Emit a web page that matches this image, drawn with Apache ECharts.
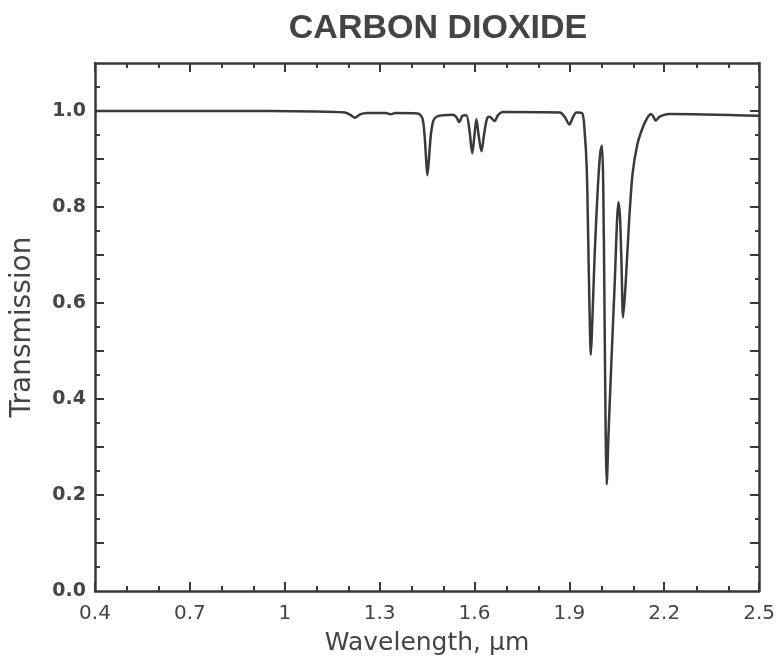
<!DOCTYPE html>
<html>
<head>
<meta charset="utf-8">
<script src="https://cdn.jsdelivr.net/npm/echarts@6/dist/echarts.min.js"></script>
<style>html,body{margin:0;padding:0;background:#fff;}#chart{width:778px;height:663px;}</style>
</head>
<body>
<div id="chart"></div>
<script>
// Data
const wavelength = [
  0.40, 0.80, 1.10, 1.19, 1.205, 1.222, 1.238, 1.26, 1.32, 1.335, 1.35, 1.42,
  1.435, 1.442, 1.447, 1.451, 1.456, 1.462, 1.470, 1.48, 1.50, 1.53, 1.542, 1.552,
  1.562, 1.574, 1.584, 1.593, 1.600, 1.606, 1.613, 1.622, 1.630, 1.640, 1.648, 1.663,
  1.675, 1.69, 1.87, 1.885, 1.900, 1.912, 1.922, 1.940, 1.948, 1.955, 1.960, 1.964,
  1.968, 1.972, 1.980, 1.990, 1.998, 2.003, 2.007, 2.011, 2.015, 2.018, 2.024, 2.033,
  2.044, 2.050, 2.055, 2.060, 2.065, 2.070, 2.078, 2.088, 2.100, 2.115, 2.130, 2.146,
  2.158, 2.166, 2.173, 2.185, 2.200, 2.215, 2.50
];
const transmission = [
  1.000, 1.000, 0.999, 0.997, 0.993, 0.986, 0.993, 0.996, 0.996, 0.993, 0.996, 0.995,
  0.985, 0.950, 0.900, 0.866, 0.900, 0.950, 0.980, 0.988, 0.991, 0.992, 0.988, 0.977,
  0.990, 0.991, 0.960, 0.912, 0.950, 0.983, 0.950, 0.916, 0.950, 0.985, 0.988, 0.979,
  0.992, 0.998, 0.997, 0.988, 0.972, 0.988, 0.997, 0.996, 0.960, 0.880, 0.720, 0.580,
  0.492, 0.550, 0.700, 0.840, 0.915, 0.928, 0.850, 0.600, 0.320, 0.222, 0.330, 0.480,
  0.650, 0.760, 0.810, 0.780, 0.680, 0.570, 0.640, 0.760, 0.870, 0.930, 0.962, 0.985,
  0.994, 0.988, 0.980, 0.988, 0.992, 0.994, 0.990
];
const xMajorTicks = [0.4, 0.7, 1.0, 1.3, 1.6, 1.9, 2.2, 2.5];
const xMinorTicks = [0.5, 0.6, 0.8, 0.9, 1.1, 1.2, 1.4, 1.5, 1.7, 1.8, 2.0, 2.1, 2.3, 2.4];
const yLabelTicks = [0.0, 0.2, 0.4, 0.6, 0.8, 1.0];
const yMajorTicks = [0.1, 0.2, 0.3, 0.4, 0.5, 0.6, 0.7, 0.8, 0.9, 1.0];
const yMinorTicks = [0.05, 0.15, 0.25, 0.35, 0.45, 0.55, 0.65, 0.75, 0.85, 0.95, 1.05];

const X_MIN = 0.4, X_MAX = 2.5, Y_MIN = 0, Y_MAX = 1.1;
const ink = '#3a3a3a';
const textCol = '#444';

const gridRect = { left: 95, right: 18, top: 63, bottom: 72, containLabel: false };

function xAx(gridIndex, position, ticks, len, opts) {
  return Object.assign({
    type: 'value', gridIndex: gridIndex, position: position, min: X_MIN, max: X_MAX,
    splitLine: { show: false },
    axisLine: { show: false, onZero: false },
    axisTick: { show: true, inside: true, length: len, customValues: ticks, lineStyle: { color: ink, width: 2 } },
    axisLabel: { show: false }
  }, opts || {});
}
function yAx(gridIndex, position, ticks, len, opts) {
  return Object.assign({
    type: 'value', gridIndex: gridIndex, position: position, min: Y_MIN, max: Y_MAX,
    splitLine: { show: false },
    axisLine: { show: false, onZero: false },
    axisTick: { show: true, inside: true, length: len, customValues: ticks, lineStyle: { color: ink, width: 2 } },
    axisLabel: { show: false }
  }, opts || {});
}
const frameLine = { show: true, onZero: false, lineStyle: { color: ink, width: 2.5 } };

const chart = echarts.init(document.getElementById('chart'), null, { renderer: 'canvas' });
chart.setOption({
  backgroundColor: '#fff',
  animation: false,
  title: {
    text: 'CARBON DIOXIDE', left: 433, top: 7, textAlign: 'center',
    textStyle: { fontFamily: 'Liberation Sans', fontWeight: 'bold', fontSize: 34, color: textCol }
  },
  grid: [gridRect, gridRect],
  xAxis: [
    xAx(0, 'bottom', xMajorTicks, 9, {
      axisLine: frameLine,
      name: 'Wavelength, µm', nameLocation: 'middle', nameGap: 40,
      nameTextStyle: { fontFamily: 'DejaVu Sans', fontSize: 25, color: textCol },
      axisLabel: { show: true, customValues: xMajorTicks, margin: 13,
        fontFamily: 'DejaVu Sans', fontSize: 20, color: textCol,
        formatter: v => String(Math.round(v * 10) / 10) }
    }),
    xAx(0, 'top', xMajorTicks, 9, { axisLine: frameLine }),
    xAx(1, 'bottom', xMinorTicks, 5),
    xAx(1, 'top', xMinorTicks, 5)
  ],
  yAxis: [
    yAx(0, 'left', yMajorTicks, 9, {
      axisLine: frameLine,
      name: 'Transmission', nameLocation: 'middle', nameGap: 58,
      nameTextStyle: { fontFamily: 'DejaVu Sans', fontSize: 28, color: textCol },
      axisLabel: { show: true, customValues: yLabelTicks, margin: 9,
        fontFamily: 'DejaVu Sans', fontWeight: 'bold', fontSize: 19, color: textCol,
        formatter: v => v.toFixed(1) }
    }),
    yAx(0, 'right', yMajorTicks, 9, { axisLine: frameLine }),
    yAx(1, 'left', yMinorTicks, 5),
    yAx(1, 'right', yMinorTicks, 5)
  ],
  series: [{
    type: 'line', xAxisIndex: 0, yAxisIndex: 0,
    data: wavelength.map((w, i) => [w, transmission[i]]),
    showSymbol: false, symbol: 'none',
    smooth: 0.3,
    lineStyle: { color: ink, width: 2.5, join: 'round' }
  }]
});
</script>
</body>
</html>
